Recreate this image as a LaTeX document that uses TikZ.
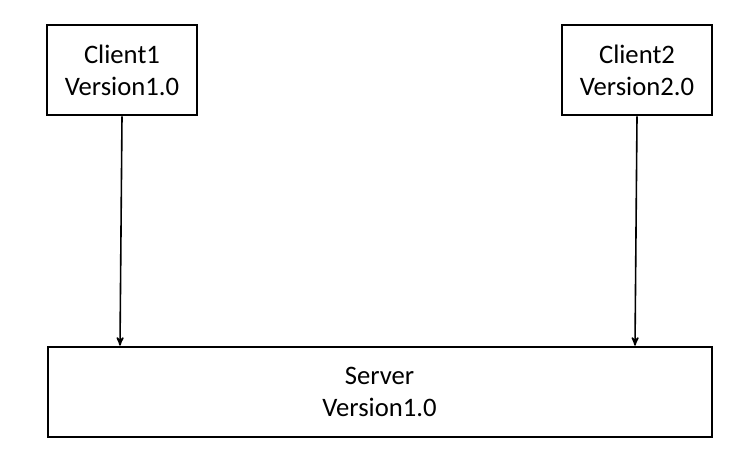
\documentclass[tikz,border=0pt]{standalone}
\usepackage{fontspec}
\setmainfont{Carlito}
\usetikzlibrary{arrows,positioning}

\begin{document}
\begin{tikzpicture}[x=0.75pt,y=-0.75pt,>=stealth',
	box/.style={draw,line width=1.5pt,minimum height=68pt,align=center,
		font=\fontsize{20}{24}\selectfont,inner sep=0pt},
	client/.style={box,minimum width=112pt},
	link/.style={->,line width=1.2pt}]
	\useasboundingbox (0,0) rectangle (737,454);
	\node[client] (c1) at (122,70) {Client1\\Version1.0};
	\node[client] (c2) at (637,70) {Client2\\Version2.0};
	\node[box,minimum width=498pt] (srv) at (379.5,392) {Server\\Version1.0};
	
	\coordinate (e1) at ([xshift=-1.5pt]c1.south |- srv.north);
	\coordinate (e2) at ([xshift=-1.5pt]c2.south |- srv.north);
	\draw[link] (c1.south) -- (e1);
	\draw[link] (c2.south) -- (e2);
\end{tikzpicture}
\end{document}
